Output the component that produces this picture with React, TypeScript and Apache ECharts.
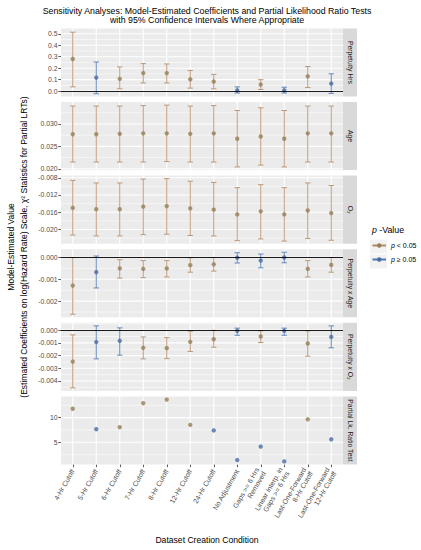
import React, { useEffect, useRef } from "react";
import * as echarts from "echarts";

const categories = [
  "4-Hr Cutoff",
  "5-Hr Cutoff",
  "6-Hr Cutoff",
  "7-Hr Cutoff",
  "8-Hr Cutoff",
  "12-Hr Cutoff",
  "24-Hr Cutoff",
  "No Adjustment",
  "Gaps >= 6 Hrs\nRemoved",
  "Linear Interp. in\nGaps >= 6 Hrs",
  "Last-One-Forward\n8-Hr Cutoff",
  "Last-One-Forward\n12-Hr Cutoff",
];

const panelNames = ["Perpetuity Hrs", "Age", "O\u2082", "Perpetuity x Age", "Perpetuity x O\u2082", "Partial Lk. Ratio Test"];

// significance: 1 = p < 0.05, 0 = p >= 0.05
const sigHrs = [1, 0, 1, 1, 1, 1, 1, 0, 1, 0, 1, 0];
const sigAge = [1, 1, 1, 1, 1, 1, 1, 1, 1, 1, 1, 1];
const sigO2 = [1, 1, 1, 1, 1, 1, 1, 1, 1, 1, 1, 1];
const sigHrsAge = [1, 0, 1, 1, 1, 1, 1, 0, 0, 0, 1, 1];
const sigHrsO2 = [1, 0, 0, 1, 1, 1, 1, 0, 1, 0, 1, 0];
const sigLRT = [1, 0, 1, 1, 1, 1, 0, 0, 0, 0, 1, 0];

const estHrs = [0.28, 0.117, 0.106, 0.157, 0.157, 0.103, 0.083, 0.006, 0.057, 0.006, 0.129, 0.066];
const loHrs = [0.037, -0.023, 0.02, 0.071, 0.071, 0.026, 0.02, -0.017, 0.014, -0.017, 0.031, -0.02];
const hiHrs = [0.514, 0.254, 0.211, 0.24, 0.237, 0.18, 0.146, 0.037, 0.1, 0.034, 0.214, 0.151];

const estAge = [0.0277, 0.0277, 0.0278, 0.0279, 0.0279, 0.0278, 0.0279, 0.0267, 0.0272, 0.0267, 0.0279, 0.0279];
const loAge = [0.0215, 0.0215, 0.0215, 0.0215, 0.0216, 0.0215, 0.0215, 0.0204, 0.0208, 0.0204, 0.0215, 0.0215];
const hiAge = [0.034, 0.034, 0.034, 0.0341, 0.0342, 0.034, 0.0341, 0.033, 0.0336, 0.033, 0.034, 0.034];

const estO2 = [-0.015, -0.0153, -0.0153, -0.0147, -0.0146, -0.0151, -0.0154, -0.0165, -0.0158, -0.0165, -0.0156, -0.0162];
const loO2 = [-0.0213, -0.0215, -0.0215, -0.0212, -0.0211, -0.0214, -0.0215, -0.0226, -0.0222, -0.0227, -0.0221, -0.0225];
const hiO2 = [-0.0086, -0.0092, -0.0092, -0.0083, -0.0082, -0.0088, -0.0091, -0.0103, -0.0096, -0.0103, -0.0092, -0.0098];

const estHrsAge = [-0.00129, -0.00068, -0.00051, -0.00053, -0.00051, -0.00036, -0.00032, -0.00002, -0.00015, -0.00001, -0.00053, -0.00035];
const loHrsAge = [-0.0026, -0.0014, -0.00095, -0.00093, -0.0009, -0.00068, -0.00063, -0.00026, -0.00048, -0.00025, -0.0009, -0.00068];
const hiHrsAge = [-0.00001, 0.00006, -0.00011, -0.00015, -0.00015, -0.00002, -0.00001, 0.00021, 0.00015, 0.00023, -0.00015, -0.00001];

const estHrsO2 = [-0.00247, -0.00094, -0.00084, -0.00139, -0.00142, -0.00092, -0.00071, -0.00005, -0.0005, -0.00005, -0.00105, -0.00053];
const loHrsO2 = [-0.00454, -0.00226, -0.00197, -0.00226, -0.00224, -0.00168, -0.00134, -0.0004, -0.00097, -0.0004, -0.00205, -0.00139];
const hiHrsO2 = [-0.00037, 0.00034, 0.00018, -0.00053, -0.00058, -0.00008, -0.00001, 0.00016, -0.00005, 0.00016, -0.00005, 0.00034];

const chiLRT = [11.8, 7.66, 8.06, 12.92, 13.66, 8.53, 7.4, 1.4, 4.13, 1.13, 9.66, 5.6];

// y ranges, tick labels and minor breaks per panel
const yLimits = [
  [-0.047, 0.547],
  [0.0197, 0.0349],
  [-0.0233, -0.0075],
  [-0.00274, 0.00037],
  [-0.00478, 0.00058],
  [0.5, 14.3],
];
const yTicksHrs = [0, 0.1, 0.2, 0.3, 0.4, 0.5];
const yTicksAge = [0.02, 0.025, 0.03];
const yTicksO2 = [-0.02, -0.016, -0.012, -0.008];
const yTicksHrsAge = [-0.002, -0.001, 0];
const yTicksHrsO2 = [-0.004, -0.003, -0.002, -0.001, 0];
const yTicksLRT = [5, 10];
const yMinorHrs = [0.05, 0.15, 0.25, 0.35, 0.45];
const yMinorAge = [0.0225, 0.0275, 0.0325];
const yMinorO2 = [-0.022, -0.018, -0.014, -0.01];
const yMinorHrsAge = [-0.0025, -0.0015, -0.0005];
const yMinorHrsO2 = [-0.0045, -0.0035, -0.0025, -0.0015, -0.0005, 0.0005];
const yMinorLRT = [2.5, 7.5, 12.5];
const yDecimals = [1, 3, 3, 3, 3, 0];

const ORANGE_BAR = "#B48A62";
const ORANGE_PT = "#967E55";
const BLUE_BAR = "#4A78B4";
const BLUE_PT = "#4A6CA2";
const FONT = "'Liberation Sans', Arial, Helvetica, sans-serif";

const PANEL_TOPS = [28.4, 102.0, 175.6, 249.2, 322.8, 396.4];
const PANEL_H = 68.1;
const LEFT = 61;
const RIGHT_EDGE = 343;
const XLAB_SIZE = 7;
const XLAB_LH = 7.8;

export default function App() {
  const ref = useRef<HTMLDivElement>(null);

  useEffect(() => {
    if (!ref.current) return;
    const chart = echarts.init(ref.current, null, { renderer: "svg" });

    const sigs = [sigHrs, sigAge, sigO2, sigHrsAge, sigHrsO2, sigLRT];
    const ests = [estHrs, estAge, estO2, estHrsAge, estHrsO2, chiLRT];
    const los = [loHrs, loAge, loO2, loHrsAge, loHrsO2, null];
    const his = [hiHrs, hiAge, hiO2, hiHrsAge, hiHrsO2, null];
    const majors = [yTicksHrs, yTicksAge, yTicksO2, yTicksHrsAge, yTicksHrsO2, yTicksLRT];
    const minors = [yMinorHrs, yMinorAge, yMinorO2, yMinorHrsAge, yMinorHrsO2, yMinorLRT];
    const zeroLine = [true, false, false, true, true, false];

    const grids: any[] = [];
    const xAxes: any[] = [];
    const yAxes: any[] = [];
    const series: any[] = [];
    const graphics: any[] = [];

    const xData = categories.map((c) =>
      c.indexOf("\n") >= 0
        ? { value: c, textStyle: { padding: [XLAB_LH, 0, 0, 0] } }
        : { value: c }
    );

    for (let p = 0; p < 6; p++) {
      grids.push({
        left: LEFT,
        top: PANEL_TOPS[p],
        width: RIGHT_EDGE - LEFT,
        height: PANEL_H,
        show: true,
        backgroundColor: "#EBEBEB",
        borderWidth: 0,
        containLabel: false,
      });
      const isBottom = p === 5;
      xAxes.push({
        type: "category",
        gridIndex: p,
        data: xData,
        boundaryGap: true,
        axisLine: { show: false },
        axisTick: {
          show: isBottom,
          alignWithLabel: true,
          length: 2.7,
          lineStyle: { color: "#333333", width: 0.8 },
        },
        axisLabel: {
          show: isBottom,
          interval: 0,
          rotate: 60,
          margin: 5.5,
          fontSize: XLAB_SIZE,
          lineHeight: XLAB_LH,
          color: "#4D4D4D",
          fontFamily: FONT,
        },
        splitLine: { show: false },
      });
      const dec = yDecimals[p];
      yAxes.push({
        type: "value",
        gridIndex: p,
        min: yLimits[p][0],
        max: yLimits[p][1],
        axisLine: { show: false },
        axisTick: {
          show: true,
          customValues: majors[p],
          length: 2.7,
          lineStyle: { color: "#333333", width: 0.8 },
        },
        axisLabel: {
          customValues: majors[p],
          margin: 3.5,
          fontSize: 6.8,
          color: "#4D4D4D",
          fontFamily: FONT,
          formatter: (v: number) => {
            const s = Number(v).toFixed(dec);
            return s === "-" + (0).toFixed(dec) ? (0).toFixed(dec) : s;
          },
        },
        splitLine: { show: false },
      });

      // grid lines (minor horizontal, major horizontal, vertical at categories)
      const gridData: any[] = [];
      minors[p].forEach((v) => gridData.push([0, v, 0]));
      majors[p].forEach((v) => gridData.push([0, v, 1]));
      categories.forEach((_, i) => gridData.push([i, yLimits[p][0], 2]));
      series.push({
        type: "custom",
        xAxisIndex: p,
        yAxisIndex: p,
        silent: true,
        z: 1,
        data: gridData,
        renderItem: (params: any, api: any) => {
          const cs = params.coordSys;
          const kind = api.value(2);
          if (kind === 2) {
            const px = api.coord([api.value(0), api.value(1)])[0];
            return {
              type: "line",
              shape: { x1: px, y1: cs.y, x2: px, y2: cs.y + cs.height },
              style: { stroke: "#FFFFFF", lineWidth: 1.1 },
            };
          }
          const py = api.coord([0, api.value(1)])[1];
          return {
            type: "line",
            shape: { x1: cs.x, y1: py, x2: cs.x + cs.width, y2: py },
            style: { stroke: "#FFFFFF", lineWidth: kind === 1 ? 1.1 : 0.55 },
          };
        },
        markLine: zeroLine[p]
          ? {
              silent: true,
              symbol: ["none", "none"],
              label: { show: false },
              lineStyle: { color: "#000000", width: 0.9, type: "solid" },
              data: [{ yAxis: 0 }],
            }
          : undefined,
      });

      const lo = los[p];
      const hi = his[p];
      if (lo && hi) {
        series.push({
          type: "custom",
          xAxisIndex: p,
          yAxisIndex: p,
          silent: true,
          z: 3,
          encode: { x: 0, y: [1, 2] },
          data: categories.map((_, i) => [i, lo[i], hi[i], sigs[p][i]]),
          renderItem: (params: any, api: any) => {
            const xi = api.value(0);
            const a = api.coord([xi, api.value(1)]);
            const b = api.coord([xi, api.value(2)]);
            const color = api.value(3) === 1 ? ORANGE_BAR : BLUE_BAR;
            const w = 2.7;
            const st = { stroke: color, lineWidth: 0.85 };
            return {
              type: "group",
              children: [
                { type: "line", shape: { x1: a[0], y1: a[1], x2: b[0], y2: b[1] }, style: st },
                { type: "line", shape: { x1: a[0] - w, y1: a[1], x2: a[0] + w, y2: a[1] }, style: st },
                { type: "line", shape: { x1: b[0] - w, y1: b[1], x2: b[0] + w, y2: b[1] }, style: st },
              ],
            };
          },
        });
      }

      series.push({
        type: "scatter",
        xAxisIndex: p,
        yAxisIndex: p,
        silent: true,
        z: 4,
        symbol: "circle",
        symbolSize: 4.4,
        data: ests[p].map((v, i) => ({
          value: [i, v],
          itemStyle: { color: sigs[p][i] === 1 ? ORANGE_PT : BLUE_PT },
        })),
      });

      // strip on the right
      graphics.push({
        type: "rect",
        shape: { x: RIGHT_EDGE, y: PANEL_TOPS[p], width: 14, height: PANEL_H },
        style: { fill: "#D9D9D9" },
        silent: true,
      });
      graphics.push({
        type: "text",
        x: RIGHT_EDGE + 7,
        y: PANEL_TOPS[p] + PANEL_H / 2,
        rotation: -Math.PI / 2,
        style: {
          text: panelNames[p],
          align: "center",
          verticalAlign: "middle",
          fontSize: 6.8,
          fill: "#1A1A1A",
          fontFamily: FONT,
        },
        silent: true,
      });
    }

    // legend dummy series
    series.push({
      type: "line",
      name: "p < 0.05",
      xAxisIndex: 0,
      yAxisIndex: 0,
      data: [],
      symbol: "circle",
      symbolSize: 4,
      itemStyle: { color: ORANGE_PT },
      lineStyle: { color: ORANGE_BAR, width: 0.9 },
    });
    series.push({
      type: "line",
      name: "p \u2265 0.05",
      xAxisIndex: 0,
      yAxisIndex: 0,
      data: [],
      symbol: "circle",
      symbolSize: 4,
      itemStyle: { color: BLUE_PT },
      lineStyle: { color: BLUE_BAR, width: 0.9 },
    });

    // legend key backgrounds
    graphics.push({
      type: "rect",
      shape: { x: 370, y: 239.5, width: 17, height: 14 },
      style: { fill: "#F2F2F2" },
      silent: true,
      z: -1,
    });
    graphics.push({
      type: "rect",
      shape: { x: 370, y: 254.5, width: 17, height: 14 },
      style: { fill: "#F2F2F2" },
      silent: true,
      z: -1,
    });

    // y axis title (two lines)
    graphics.push({
      type: "text",
      x: 11,
      y: 247,
      rotation: Math.PI / 2,
      style: {
        text: "Model-Estimated Value",
        align: "center",
        verticalAlign: "middle",
        fontSize: 8.5,
        fill: "#000000",
        fontFamily: FONT,
      },
      silent: true,
    });
    graphics.push({
      type: "text",
      x: 23.5,
      y: 247,
      rotation: Math.PI / 2,
      style: {
        text: "(Estimated Coefficients on log(Hazard Rate) Scale, \u03C7\u00B2 Statistics for Partial LRTs)",
        align: "center",
        verticalAlign: "middle",
        fontSize: 8.5,
        fill: "#000000",
        fontFamily: FONT,
      },
      silent: true,
    });

    const option: any = {
      animation: false,
      backgroundColor: "#FFFFFF",
      title: [
        {
          text: "Sensitivity Analyses: Model-Estimated Coefficients and Partial Likelihood Ratio Tests\nwith 95% Confidence Intervals Where Appropriate",
          left: 202,
          top: 1,
          textAlign: "center",
          textStyle: {
            fontSize: 8.8,
            lineHeight: 9,
            fontWeight: "normal",
            color: "#000000",
            fontFamily: FONT,
          },
        },
        {
          text: "{i|p} -Value",
          left: 367,
          top: 220.5,
          textStyle: {
            fontSize: 8.8,
            fontWeight: "normal",
            color: "#000000",
            fontFamily: FONT,
            rich: {
              i: { fontStyle: "italic", fontSize: 8.8, fontFamily: FONT, color: "#000000" },
            },
          },
        },
        {
          text: "Dataset Creation Condition",
          left: 202,
          top: 530.5,
          textAlign: "center",
          textStyle: {
            fontSize: 8.6,
            fontWeight: "normal",
            color: "#000000",
            fontFamily: FONT,
          },
        },
      ],
      legend: {
        left: 366.5,
        top: 237,
        padding: 5,
        orient: "vertical",
        itemWidth: 13.5,
        itemHeight: 5.5,
        itemGap: 7,
        selectedMode: false,
        data: ["p < 0.05", "p \u2265 0.05"],
        formatter: (name: string) => (name === "p < 0.05" ? "{i|p} < 0.05" : "{i|p} \u2265 0.05"),
        textStyle: {
          fontSize: 7,
          color: "#000000",
          fontFamily: FONT,
          rich: {
            i: { fontStyle: "italic", fontSize: 7, fontFamily: FONT, color: "#000000" },
          },
        },
      },
      grid: grids,
      xAxis: xAxes,
      yAxis: yAxes,
      series,
      graphic: graphics,
    };

    chart.setOption(option);
    return () => chart.dispose();
  }, []);

  return <div ref={ref} style={{ width: 421, height: 550, position: "absolute", left: 0, top: 0 }} />;
}
